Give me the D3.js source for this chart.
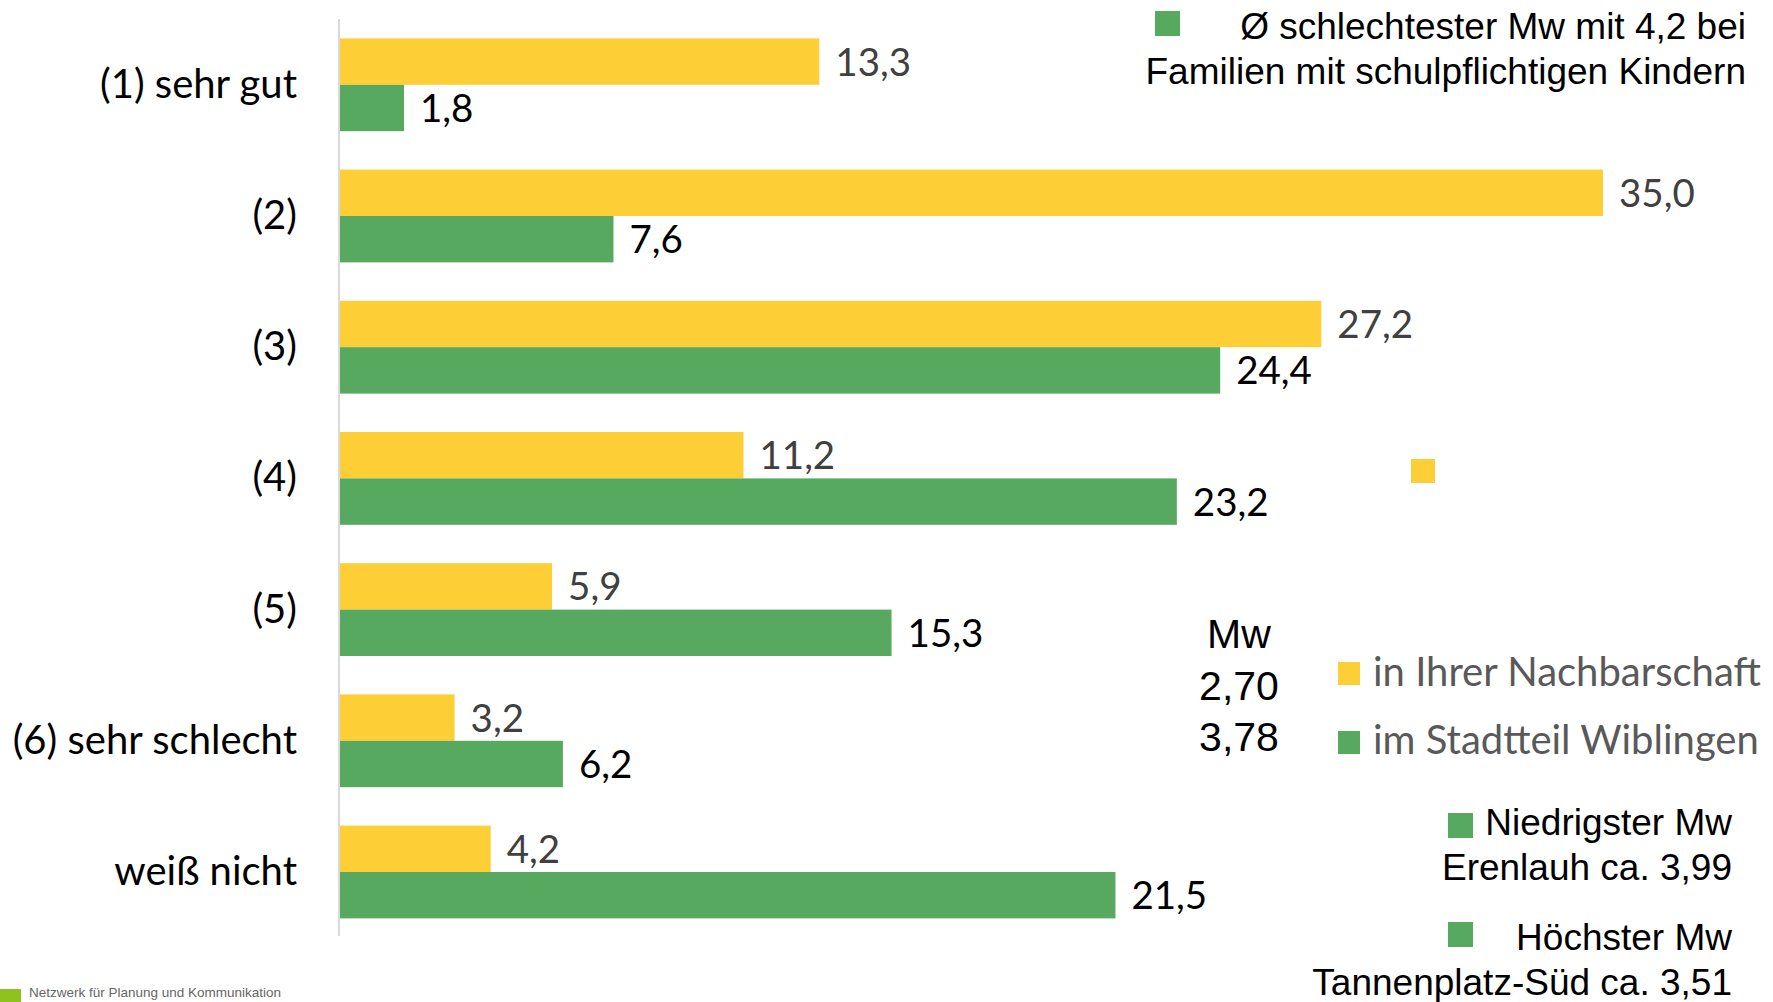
<!DOCTYPE html>
<html>
<head>
<meta charset="utf-8">
<script src="https://cdn.jsdelivr.net/npm/d3@7"></script>
<style>
  body { margin: 0; background: #fff; }
  svg { display: block; }
</style>
</head>
<body>
<svg width="1773" height="1002"></svg>
<script>
// Data
const categories = ["(1) sehr gut", "(2)", "(3)", "(4)", "(5)", "(6) sehr schlecht", "weiß nicht"];
const nachbarschaft = [13.3, 35.0, 27.2, 11.2, 5.9, 3.2, 4.2];
const stadtteil = [1.8, 7.6, 24.4, 23.2, 15.3, 6.2, 21.5];
const seriesNames = ["in Ihrer Nachbarschaft", "im Stadtteil Wiblingen"];
const mwValues = ["2,70", "3,78"];

const yellow = "#FECE36", green = "#56A95F";
const calibri = "Lato, 'Open Sans', sans-serif";
const arial = "'Liberation Sans', Arial, sans-serif";

const svg = d3.select("svg");

// Scales
const x = d3.scaleLinear()
    .domain([0, 35])
    .range([339, 1603]);

const y = d3.scaleBand()
    .domain(categories)
    .range([19.2, 937.6])
    .paddingInner(0.2927)
    .paddingOuter(0.1463);

const ySub = d3.scaleBand()
    .domain([0, 1])
    .range([0, y.bandwidth()]);

const fmt = v => d3.format(".1f")(v).replace(".", ",");

// Bars
const series = [nachbarschaft, stadtteil];
const colors = [yellow, green];
const labelColors = ["#404040", "#000"];

series.forEach((values, s) => {
    const g = svg.append("g");
    g.selectAll("rect")
        .data(values)
        .join("rect")
        .attr("x", x(0))
        .attr("y", (d, i) => y(categories[i]) + ySub(s))
        .attr("width", d => x(d) - x(0))
        .attr("height", ySub.bandwidth())
        .attr("fill", colors[s]);

    g.selectAll("text")
        .data(values)
        .join("text")
        .attr("x", d => x(d) + 16)
        .attr("y", (d, i) => y(categories[i]) + ySub(s) + ySub.bandwidth() / 2 + 14)
        .style("font-family", calibri)
        .style("font-size", "38.5px")
        .attr("fill", labelColors[s])
        .text(d => fmt(d));
});

// Vertical axis line
svg.append("line")
    .attr("x1", x(0)).attr("x2", x(0))
    .attr("y1", 19).attr("y2", 936)
    .attr("stroke", "#d9d9d9")
    .attr("stroke-width", 2);

// Category labels
svg.append("g")
    .selectAll("text")
    .data(categories)
    .join("text")
    .attr("x", 297)
    .attr("y", d => y(d) + y.bandwidth() / 2 + 13)
    .attr("text-anchor", "end")
    .style("font-family", calibri)
    .style("font-size", "40px")
    .attr("fill", "#000")
    .text(d => d);

// Legend
const legend = svg.append("g");
seriesNames.forEach((name, i) => {
    legend.append("rect")
        .attr("x", 1338).attr("y", 662 + i * 69)
        .attr("width", 22).attr("height", 23)
        .attr("fill", colors[i]);
    legend.append("text")
        .attr("x", 1373).attr("y", 686 + i * 68)
        .style("font-family", calibri)
        .style("font-size", "40px")
        .attr("fill", "#595959")
        .text(name);
});

// Mean values
svg.append("g")
    .selectAll("text")
    .data(["Mw"].concat(mwValues))
    .join("text")
    .attr("x", 1239)
    .attr("y", (d, i) => 648 + i * 51.5)
    .attr("text-anchor", "middle")
    .style("font-family", arial)
    .style("font-size", "41px")
    .attr("fill", "#000")
    .text(d => d);

// Annotations (Arial, right aligned)
function note(lines, right, baseline, sq) {
    const g = svg.append("g");
    g.append("rect")
        .attr("x", sq[0]).attr("y", sq[1])
        .attr("width", 25).attr("height", 25)
        .attr("fill", green);
    lines.forEach((t, i) => {
        g.append("text")
            .attr("x", right)
            .attr("y", baseline + i * 45)
            .attr("text-anchor", "end")
            .style("font-family", arial)
            .style("font-size", "37px")
            .attr("fill", "#000")
            .text(t);
    });
}
note(["Ø schlechtester Mw mit 4,2 bei", "Familien mit schulpflichtigen Kindern"], 1746, 39, [1155, 11]);
note(["Niedrigster Mw", "Erenlauh ca. 3,99"], 1732, 835, [1448, 813]);
note(["Höchster Mw", "Tannenplatz-Süd ca. 3,51"], 1732, 950, [1448, 922]);

// Stray yellow square
svg.append("rect")
    .attr("x", 1411).attr("y", 459)
    .attr("width", 24).attr("height", 24)
    .attr("fill", yellow);

// Footer
svg.append("rect")
    .attr("x", 0).attr("y", 989)
    .attr("width", 21).attr("height", 13)
    .attr("fill", "#8DC21F");
svg.append("text")
    .attr("x", 29).attr("y", 997)
    .style("font-family", arial)
    .style("font-size", "13.5px")
    .attr("fill", "#666")
    .text("Netzwerk für Planung und Kommunikation");
</script>
</body>
</html>
